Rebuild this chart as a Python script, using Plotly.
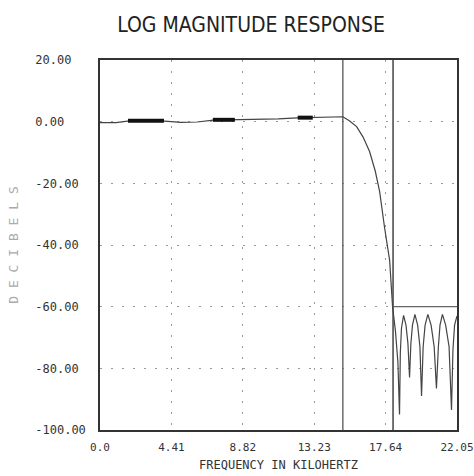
import plotly.graph_objects as go

# ---- data ----
freq_khz = [0.0, 1.0, 1.7, 3.0, 4.0, 5.0, 6.0, 7.0, 8.3, 9.5, 11.0, 12.2, 13.1, 14.0, 15.0,
            15.4, 15.85, 16.25, 16.65, 17.0, 17.27, 17.58, 17.89, 18.07,
            18.25, 18.40, 18.50,
            18.55, 18.62, 18.75, 18.90, 19.02, 19.12,
            19.20, 19.30, 19.45, 19.62, 19.76, 19.86,
            19.96, 20.08, 20.25, 20.45, 20.64, 20.78,
            20.90, 21.00, 21.15, 21.35, 21.56, 21.71,
            21.80, 21.90, 22.05]
mag_db = [-0.3, -0.3, 0.2, 0.2, 0.2, -0.2, -0.1, 0.5, 0.6, 0.7, 0.9, 1.2, 1.4, 1.6, 1.6,
          0.3, -1.6, -5.0, -9.7, -16.0, -22.6, -34.5, -45.0, -60.0,
          -68.0, -78.0, -95.0,
          -75.0, -67.0, -62.8, -66.0, -72.0, -83.0,
          -72.0, -66.0, -62.5, -66.0, -73.0, -89.0,
          -73.0, -66.0, -62.5, -66.0, -73.0, -86.5,
          -73.0, -66.0, -62.5, -66.0, -73.0, -93.5,
          -74.0, -66.0, -63.0]

# passband ripple bands (drawn thick in the reference)
ripple_start = [1.73, 6.97, 12.21]
ripple_end = [3.95, 8.33, 13.14]
ripple_db = [0.3, 0.6, 1.3]

# filter specification
passband_edge = 15.0
stopband_edge = 18.1
stopband_atten = -60.0

x_ticks = [0.0, 4.41, 8.82, 13.23, 17.64, 22.05]
x_ticktext = ["0.0", "4.41", "8.82", "13.23", "17.64", "22.05"]
y_ticks = [20, 0, -20, -40, -60, -80, -100]
y_ticktext = ["20.00", "0.00", "-20.00", "-40.00", "-60.00", "-80.00", "-100.00"]

x_min, x_max = 0.0, 22.05
y_min, y_max = -100.0, 20.0

# ---- figure ----
NB = "\u00a0"
width_max = max(len(t) for t in y_ticktext)
y_ticktext_padded = [t + NB * (width_max - len(t)) for t in y_ticktext]

fig = go.Figure()

# spec lines
fig.add_trace(go.Scatter(x=[passband_edge, passband_edge], y=[y_min, y_max], mode="lines",
                         line=dict(color="#555555", width=1.3), hoverinfo="skip"))
fig.add_trace(go.Scatter(x=[stopband_edge, stopband_edge], y=[y_min, y_max], mode="lines",
                         line=dict(color="#444444", width=1.5), hoverinfo="skip"))
fig.add_trace(go.Scatter(x=[stopband_edge, x_max], y=[stopband_atten, stopband_atten], mode="lines",
                         line=dict(color="#666666", width=1.3), hoverinfo="skip"))

# response
fig.add_trace(go.Scatter(x=freq_khz, y=mag_db, mode="lines",
                         line=dict(color="#444444", width=1.2), hoverinfo="skip"))

# thick ripple bands
rx, ry = [], []
for s, e, d in zip(ripple_start, ripple_end, ripple_db):
    rx += [s, e, None]
    ry += [d, d, None]
fig.add_trace(go.Scatter(x=rx, y=ry, mode="lines",
                         line=dict(color="#111111", width=4), hoverinfo="skip"))

mono = "DejaVu Sans Mono, Liberation Mono, monospace"

fig.update_layout(
    width=474, height=476,
    margin=dict(l=100, r=17, t=60, b=46),
    paper_bgcolor="white", plot_bgcolor="white",
    showlegend=False,
    title=dict(text="LOG MAGNITUDE RESPONSE", x=251 / 474, xanchor="center",
               xref="container", yref="container", y=1 - 25 / 476, yanchor="middle",
               font=dict(family="DejaVu Sans Condensed, Liberation Sans Narrow, sans-serif",
                         size=21, color="#222222")),
    xaxis=dict(range=[x_min, x_max], tickvals=x_ticks, ticktext=x_ticktext,
               showgrid=True, gridcolor="#9a9a9a", griddash="2px,9px", gridwidth=1,
               zeroline=False, showline=True, mirror=True, linecolor="#333333", linewidth=1.5,
               ticks="", ticklabelstandoff=6, automargin=False, ticklabeloverflow="allow",
               tickfont=dict(family=mono, size=11, color="#333333"),
               title=dict(text="FREQUENCY IN KILOHERTZ", standoff=8,
                          font=dict(family=mono, size=12, color="#333333"))),
    yaxis=dict(range=[y_min, y_max], tickvals=y_ticks, ticktext=y_ticktext_padded,
               showgrid=True, gridcolor="#9a9a9a", griddash="2px,9px", gridwidth=1,
               zeroline=False, showline=True, mirror=True, linecolor="#333333", linewidth=1.5,
               ticks="", ticklabelstandoff=10, automargin=False, ticklabeloverflow="allow",
               tickfont=dict(family=mono, size=12, color="#333333"),
               title=dict(text="D E C I B E L S", standoff=14,
                          font=dict(family=mono, size=13, color="#aaaaaa"))),
)

fig.write_html("out.html", config={"displayModeBar": False},
               post_script="document.body.style.margin='0';document.body.style.overflow='hidden';")
